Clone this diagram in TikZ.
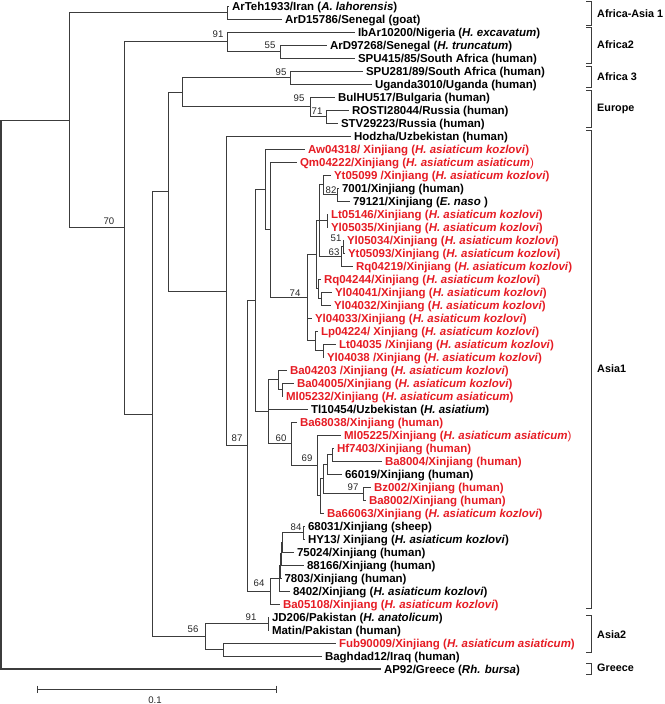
\documentclass[tikz,border=0pt]{standalone}
\usepackage{fontspec}
\setmainfont{Liberation Sans}
\definecolor{vred}{RGB}{230,28,36}
\definecolor{lgray}{RGB}{60,60,60}
\newcommand\spn[1]{\textit{#1}}
\newcommand\thinp{{\mdseries )}}
\begin{document}
\begin{tikzpicture}[x=1pt,y=-1pt,
  br/.style={draw=lgray, line width=0.85pt},
  leaf/.style={anchor=west, inner xsep=3pt, inner ysep=0pt, outer sep=0pt, text height=8.3pt, text depth=0pt, font=\fontsize{11.5}{12}\selectfont\bfseries},
  rl/.style={leaf, text=vred},
  bl/.style={leaf, text=black},
  bs/.style={inner sep=0pt, font=\fontsize{9.6}{10}\selectfont, text=black!85},
  grp/.style={anchor=west, inner sep=0pt, font=\fontsize{10.8}{12}\selectfont\bfseries},
  brk/.style={draw=lgray, line width=0.85pt}]
\useasboundingbox (0,0) rectangle (664,704);

% internal nodes
\coordinate (root) at (1,394.5);
\coordinate (nA) at (69,120.2);
\coordinate (nAA1) at (227,12.5);
\coordinate (nB) at (124,227.9);
\coordinate (nAf2) at (227,41.75);
\coordinate (n55) at (280,51.5);
\coordinate (nC) at (152,414);
\coordinate (nD) at (168,191.5);
\coordinate (nAfEu) at (182,92.1);
\coordinate (nAf3) at (290,77.5);
\coordinate (nEu) at (310,106.75);
\coordinate (n71) at (326,116.5);
\coordinate (nHA) at (226,291);
\coordinate (nF) at (247,445.9);
\coordinate (nG) at (255,300.6);
\coordinate (nH) at (265,189.4);
\coordinate (nJ) at (270,229.85);
\coordinate (nK) at (307,297.7);
\coordinate (nY) at (316,254.6);
\coordinate (nL) at (319,220.5);
\coordinate (nT) at (323,184.75);
\coordinate (n82) at (337,194.5);
\coordinate (nV) at (327,220.5);
\coordinate (n63) at (341,256.25);
\coordinate (n51) at (343,246.5);
\coordinate (nX) at (318,288.75);
\coordinate (nW) at (321,298.5);
\coordinate (nM) at (315,340.75);
\coordinate (nN) at (323,350.5);
\coordinate (nI) at (268,411.7);
\coordinate (nZ) at (278,379.75);
\coordinate (nAA) at (282,389.5);
\coordinate (n60) at (291,443.7);
\coordinate (n69) at (317,465.5);
\coordinate (nBB) at (320,495.9);
\coordinate (nCC) at (323,478.9);
\coordinate (nEE) at (327,464.25);
\coordinate (nDD) at (332,454.5);
\coordinate (n97) at (363,493.5);
\coordinate (n64) at (270,591.2);
\coordinate (nP) at (279,578.4);
\coordinate (nQ) at (280,565.8);
\coordinate (nR) at (281,553.6);
\coordinate (nS) at (282,542.25);
\coordinate (n84) at (303,532.5);
\coordinate (n56) at (205,636.5);
\coordinate (n91b) at (268,623.5);
\coordinate (nFF) at (223,649.5);

% leaves
\node[bl] (l1) at (229,6) {ArTeh1933/Iran (\spn{A. lahorensis})};
\node[bl] (l2) at (282,19) {ArD15786/Senegal (goat)};
\node[bl] (l3) at (355,32) {IbAr10200/Nigeria (\spn{H. excavatum})};
\node[bl] (l4) at (327,45) {ArD97268/Senegal (\spn{H. truncatum})};
\node[bl] (l5) at (355,58) {SPU415/85/South Africa (human)};
\node[bl] (l6) at (363,71) {SPU281/89/South Africa (human)};
\node[bl] (l7) at (372,84) {Uganda3010/Uganda (human)};
\node[bl] (l8) at (335,97) {BulHU517/Bulgaria (human)};
\node[bl] (l9) at (349,110) {ROSTI28044/Russia (human)};
\node[bl] (l10) at (338,123) {STV29223/Russia (human)};
\node[bl] (l11) at (351,136) {Hodzha/Uzbekistan (human)};
\node[rl] (l12) at (305,149) {Aw04318/ Xinjiang (\spn{H. asiaticum kozlovi})};
\node[rl] (l13) at (297,162) {Qm04222/Xinjiang (\spn{H. asiaticum asiaticum}\thinp};
\node[rl] (l14) at (331,175) {Yt05099 /Xinjiang (\spn{H. asiaticum kozlovi})};
\node[bl] (l15) at (339,188) {7001/Xinjiang (human)};
\node[bl] (l16) at (350,201) {79121/Xinjiang (\spn{E. naso} )};
\node[rl] (l17) at (328,214) {Lt05146/Xinjiang (\spn{H. asiaticum kozlovi})};
\node[rl] (l18) at (328,227) {Yl05035/Xinjiang (\spn{H. asiaticum kozlovi})};
\node[rl] (l19) at (344,240) {Yl05034/Xinjiang (\spn{H. asiaticum kozlovi})};
\node[rl] (l20) at (345,253) {Yt05093/Xinjiang (\spn{H. asiaticum kozlovi})};
\node[rl] (l21) at (353,266) {Rq04219/Xinjiang (\spn{H. asiaticum kozlovi})};
\node[rl] (l22) at (321,279) {Rq04244/Xinjiang (\spn{H. asiaticum kozlovi})};
\node[rl] (l23) at (332,292) {Yl04041/Xinjiang (\spn{H. asiaticum kozlovi})};
\node[rl] (l24) at (331,305) {Yl04032/Xinjiang (\spn{H. asiaticum kozlovi})};
\node[rl] (l25) at (312,318) {Yl04033/Xinjiang (\spn{H. asiaticum kozlovi})};
\node[rl] (l26) at (318,331) {Lp04224/ Xinjiang (\spn{H. asiaticum kozlovi})};
\node[rl] (l27) at (336,344) {Lt04035 /Xinjiang (\spn{H. asiaticum kozlovi})};
\node[rl] (l28) at (324,357) {Yl04038 /Xinjiang (\spn{H. asiaticum kozlovi})};
\node[rl] (l29) at (287,370) {Ba04203 /Xinjiang (\spn{H. asiaticum kozlovi})};
\node[rl] (l30) at (294,383) {Ba04005/Xinjiang (\spn{H. asiaticum kozlovi})};
\node[rl] (l31) at (283,396) {Ml05232/Xinjiang (\spn{H. asiaticum asiaticum})};
\node[bl] (l32) at (308,409) {Tl10454/Uzbekistan (\spn{H. asiatium})};
\node[rl] (l33) at (297,422) {Ba68038/Xinjiang (human)};
\node[rl] (l34) at (341,435) {Ml05225/Xinjiang (\spn{H. asiaticum asiaticum}\thinp};
\node[rl] (l35) at (334,448) {Hf7403/Xinjiang (human)};
\node[rl] (l36) at (382,461) {Ba8004/Xinjiang (human)};
\node[bl] (l37) at (342,474) {66019/Xinjiang (human)};
\node[rl] (l38) at (371,487) {Bz002/Xinjiang (human)};
\node[rl] (l39) at (366,500) {Ba8002/Xinjiang (human)};
\node[rl] (l40) at (324,513) {Ba66063/Xinjiang (\spn{H. asiaticum kozlovi})};
\node[bl] (l41) at (305,526) {68031/Xinjiang (sheep)};
\node[bl] (l42) at (305,539) {HY13/ Xinjiang (\spn{H. asiaticum kozlovi})};
\node[bl] (l43) at (294,552) {75024/Xinjiang (human)};
\node[bl] (l44) at (304,565) {88166/Xinjiang (human)};
\node[bl] (l45) at (281.5,578) {7803/Xinjiang (human)};
\node[bl] (l46) at (290,591) {8402/Xinjiang (\spn{H. asiaticum kozlovi})};
\node[rl] (l47) at (280,604) {Ba05108/Xinjiang (\spn{H. asiaticum kozlovi})};
\node[bl] (l48) at (269,617) {JD206/Pakistan (\spn{H. anatolicum})};
\node[bl] (l49) at (269,630) {Matin/Pakistan (human)};
\node[rl] (l50) at (336,643) {Fub90009/Xinjiang (\spn{H. asiaticum asiaticum})};
\node[bl] (l51) at (322,656) {Baghdad12/Iraq (human)};
\node[bl] (l52) at (381,669) {AP92/Greece (\spn{Rh. bursa})};

% branches
\draw[br, line width=1.2pt] (root) |- (nA);
\draw[br, line width=1.2pt] (root) |- (l52.west);
\draw[br] (nA) |- (nAA1);
\draw[br] (nA) |- (nB);
\draw[br] (nAA1) |- (l1.west);
\draw[br] (nAA1) |- (l2.west);
\draw[br] (nB) |- (nAf2);
\draw[br] (nB) |- (nC);
\draw[br] (nAf2) |- (l3.west);
\draw[br] (nAf2) |- (n55);
\draw[br] (n55) |- (l4.west);
\draw[br] (n55) |- (l5.west);
\draw[br] (nC) |- (nD);
\draw[br] (nC) |- (n56);
\draw[br] (nD) |- (nAfEu);
\draw[br] (nD) |- (nHA);
\draw[br] (nAfEu) |- (nAf3);
\draw[br] (nAfEu) |- (nEu);
\draw[br] (nAf3) |- (l6.west);
\draw[br] (nAf3) |- (l7.west);
\draw[br] (nEu) |- (l8.west);
\draw[br] (nEu) |- (n71);
\draw[br] (n71) |- (l9.west);
\draw[br] (n71) |- (l10.west);
\draw[br] (nHA) |- (l11.west);
\draw[br] (nHA) |- (nF);
\draw[br] (nF) |- (nG);
\draw[br] (nF) |- (n64);
\draw[br] (nG) |- (nH);
\draw[br] (nG) |- (nI);
\draw[br] (nH) |- (l12.west);
\draw[br] (nH) |- (nJ);
\draw[br] (nJ) |- (l13.west);
\draw[br] (nJ) |- (nK);
\draw[br] (nK) |- (nY);
\draw[br] (nK) |- (l25.west);
\draw[br] (nK) |- (nM);
\draw[br] (nY) |- (nL);
\draw[br] (nY) |- (nX);
\draw[br] (nL) |- (nT);
\draw[br] (nL) |- (nV);
\draw[br] (nL) |- (n63);
\draw[br] (nT) |- (l14.west);
\draw[br] (nT) |- (n82);
\draw[br] (n82) |- (l15.west);
\draw[br] (n82) |- (l16.west);
\draw[br] (nV) |- (l17.west);
\draw[br] (nV) |- (l18.west);
\draw[br] (n63) |- (n51);
\draw[br] (n63) |- (l21.west);
\draw[br] (n51) |- (l19.west);
\draw[br] (n51) |- (l20.west);
\draw[br] (nX) |- (l22.west);
\draw[br] (nX) |- (nW);
\draw[br] (nW) |- (l23.west);
\draw[br] (nW) |- (l24.west);
\draw[br] (nM) |- (l26.west);
\draw[br] (nM) |- (nN);
\draw[br] (nN) |- (l27.west);
\draw[br] (nN) |- (l28.west);
\draw[br] (nI) |- (nZ);
\draw[br] (nI) |- (l32.west);
\draw[br] (nI) |- (n60);
\draw[br] (nZ) |- (l29.west);
\draw[br] (nZ) |- (nAA);
\draw[br] (nAA) |- (l30.west);
\draw[br] (nAA) |- (l31.west);
\draw[br] (n60) |- (l33.west);
\draw[br] (n60) |- (n69);
\draw[br] (n69) |- (l34.west);
\draw[br] (n69) |- (nBB);
\draw[br] (nBB) |- (nCC);
\draw[br] (nBB) |- (l40.west);
\draw[br] (nCC) |- (nEE);
\draw[br] (nCC) |- (n97);
\draw[br] (nEE) |- (nDD);
\draw[br] (nEE) |- (l37.west);
\draw[br] (nDD) |- (l35.west);
\draw[br] (nDD) |- (l36.west);
\draw[br] (n97) |- (l38.west);
\draw[br] (n97) |- (l39.west);
\draw[br] (n64) |- (nP);
\draw[br] (n64) |- (l47.west);
\draw[br] (nP) |- (nQ);
\draw[br] (nP) |- (l46.west);
\draw[br] (nQ) |- (nR);
\draw[br] (nQ) |- (l45.west);
\draw[br] (nR) |- (nS);
\draw[br] (nR) |- (l44.west);
\draw[br] (nS) |- (n84);
\draw[br] (nS) |- (l43.west);
\draw[br] (n84) |- (l41.west);
\draw[br] (n84) |- (l42.west);
\draw[br] (n56) |- (n91b);
\draw[br] (n56) |- (nFF);
\draw[br] (n91b) |- (l48.west);
\draw[br] (n91b) |- (l49.west);
\draw[br] (nFF) |- (l50.west);
\draw[br] (nFF) |- (l51.west);

% bootstrap values
\node[bs] (b1) at (218,34) {91};
\node[bs] (b2) at (270,45) {55};
\node[bs] (b3) at (281,72) {95};
\node[bs] (b4) at (299,98) {95};
\node[bs] (b5) at (317,111) {71};
\node[bs] (b6) at (109,221) {70};
\node[bs] (b7) at (331,190) {82};
\node[bs] (b8) at (336,238) {51};
\node[bs] (b9) at (334,252) {63};
\node[bs] (b10) at (295,293) {74};
\node[bs] (b11) at (237,438) {87};
\node[bs] (b12) at (281,438) {60};
\node[bs] (b13) at (307,458) {69};
\node[bs] (b14) at (353,487) {97};
\node[bs] (b15) at (296,527) {84};
\node[bs] (b16) at (259,583) {64};
\node[bs] (b17) at (251,617) {91};
\node[bs] (b18) at (193,629) {56};

% clade brackets
\coordinate (k1t) at (591,1);   \coordinate (k1b) at (591,25);
\coordinate (k2t) at (591,27);  \coordinate (k2b) at (591,63);
\coordinate (k3t) at (591,66);  \coordinate (k3b) at (591,87);
\coordinate (k4t) at (591,90);  \coordinate (k4b) at (591,127);
\coordinate (k5t) at (591,130); \coordinate (k5b) at (591,608);
\coordinate (k6t) at (591,615); \coordinate (k6b) at (591,652);
\coordinate (k7t) at (591,663); \coordinate (k7b) at (591,674);
\foreach \k in {k1,k2,k3,k4,k5,k6,k7}{
  \draw[brk] ([xshift=-5pt]\k t) -- (\k t) -- (\k b) -- ([xshift=-5pt]\k b);
}
\node[grp] (g1) at (597,14) {Africa-Asia 1};
\node[grp] (g2) at (597,45) {Africa2};
\node[grp] (g3) at (597,77) {Africa 3};
\node[grp] (g4) at (597,109) {Europe};
\node[grp] (g5) at (597,369) {Asia1};
\node[grp] (g6) at (597,635) {Asia2};
\node[grp] (g7) at (597,668) {Greece};

% scale bar
\coordinate (s0) at (37,689);
\coordinate (s1) at (276,689);
\draw[br] (s0) -- (s1);
\draw[br] ([yshift=3.5pt]s0) -- ([yshift=-3.5pt]s0);
\draw[br] ([yshift=3.5pt]s1) -- ([yshift=-3.5pt]s1);
\node[bs] (sl) at (155,700) {0.1};
\end{tikzpicture}
\end{document}
